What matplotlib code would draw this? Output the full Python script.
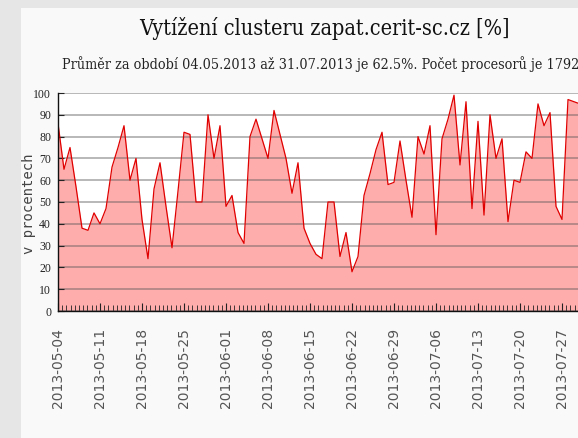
import matplotlib.pyplot as plt
import matplotlib.dates as mdates
import numpy as np
from matplotlib.patches import Rectangle

# denni vytizeni v %, od 2013-05-04 do 2013-07-31
zacatek = np.datetime64('2013-05-04')
konec = np.datetime64('2013-07-31')
vytizeni = [86, 65, 75, 57, 38, 37, 45, 40, 47, 66,
            75, 85, 60, 70, 42, 24, 56, 68, 48, 29,
            55, 82, 81, 50, 50, 90, 70, 85, 48, 53,
            36, 31, 80, 88, 79, 70, 92, 81, 70, 54,
            68, 38, 31, 26, 24, 50, 50, 25, 36, 18,
            25, 53, 63, 74, 82, 58, 59, 78, 60, 43,
            80, 72, 85, 35, 79, 88, 99, 67, 96, 47,
            87, 44, 90, 70, 79, 41, 60, 59, 73, 70,
            95, 85, 91, 48, 42, 97, 96, 95, 93]
y_ticks = list(range(0, 101, 10))

titulek = 'Vytížení clusteru zapat.cerit-sc.cz [%]'
podtitulek = ('Průměr za období 04.05.2013 až 31.07.2013 je 62.5%. '
              'Počet procesorů je 1792')

dny = zacatek + np.arange(len(vytizeni))
tydny = np.arange(zacatek, konec + 1, 7)
# drobne znacky: 10 na tyden
drobne = np.arange(zacatek.astype('datetime64[m]'), konec, np.timedelta64(1008, 'm'))

W, H = 578, 438
fig = plt.figure(figsize=(W / 100, H / 100), dpi=100, facecolor='#e6e6e6')
fig.patches.append(Rectangle((21 / W, 0), 1, 1 - 8 / H, transform=fig.transFigure,
                             facecolor='#f9f9f9', edgecolor='none', zorder=-5))

# graf je vpravo oriznuty, osa jde za okraj obrazku
ax = fig.add_axes([58 / W, 127 / H, 528 / W, 218 / H])
ax.set_zorder(1)
ax.set_facecolor('white')
ax.fill_between(dny, vytizeni, color='#ff9090', alpha=0.75, lw=0, zorder=2)
ax.plot(dny, vytizeni, color='#e00000', lw=0.9, zorder=3)

ax.set_xticks(tydny)
ax.xaxis.set_major_formatter(mdates.DateFormatter('%Y-%m-%d'))
ax.set_xticks(drobne, minor=True)
ax.set_xlim(zacatek, konec)
ax.set_ylim(0, 100)
ax.set_yticks(y_ticks)
ax.yaxis.grid(True, color='#555555', alpha=0.45, lw=1.3)
ax.set_axisbelow(False)

for s in ['top', 'right']:
    ax.spines[s].set_visible(False)
for s in ['left', 'bottom']:
    ax.spines[s].set_color('#111111')
    ax.spines[s].set_linewidth(1.0)
    ax.spines[s].set_zorder(4)

ax.tick_params(axis='x', which='both', direction='in', color='#222222',
               labelcolor='#555555', labelrotation=90, labelsize=10, pad=12.5)
ax.tick_params(axis='x', which='major', length=6)
ax.tick_params(axis='x', which='minor', length=4)
for lab in ax.get_xticklabels():
    lab.set_family('DejaVu Sans')
ax.tick_params(axis='y', direction='in', length=4, color='#222222',
               labelcolor='#222222', labelsize=8.5, pad=5)
for lab in ax.get_yticklabels():
    lab.set_family('Liberation Serif')

fig.text(29 / W, 1 - 204 / H, 'v procentech', rotation=90, ha='center', va='center',
         family='DejaVu Sans Mono', fontsize=10, color='#444444')
fig.text(324 / W, 1 - 28 / H, titulek, ha='center', va='center',
         family='DejaVu Serif', fontstretch='condensed', fontsize=15.5, color='#111111')
fig.text(62 / W, 1 - 64 / H, podtitulek, ha='left', va='center',
         family='DejaVu Serif', fontstretch='condensed', fontsize=10.3, color='#222222')

fig.savefig('out.png', dpi=100, facecolor=fig.get_facecolor())
